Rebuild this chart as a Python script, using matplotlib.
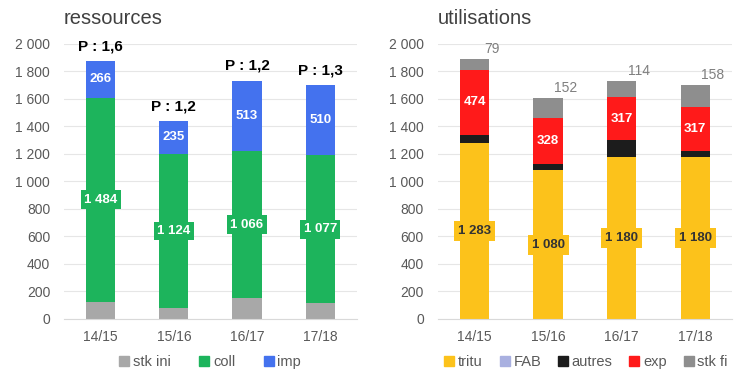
import matplotlib.pyplot as plt
from matplotlib.lines import Line2D
import numpy as np

plt.rcParams['font.family'] = ['Liberation Sans', 'DejaVu Sans']

years = ['14/15', '15/16', '16/17', '17/18']

# ressources
stk_ini = [126, 79, 152, 114]
coll = [1484, 1124, 1066, 1077]
imp = [266, 235, 513, 510]
ratio = ['P : 1,6', 'P : 1,2', 'P : 1,2', 'P : 1,3']

# utilisations
tritu = [1283, 1080, 1180, 1180]
fab = [0, 0, 0, 0]
autres = [55, 50, 119, 44]
exp_ = [474, 328, 317, 317]
stk_fi = [79, 152, 114, 158]

C_STKINI = '#A8A8A8'
C_COLL = '#1DB45C'
C_IMP = '#4472EE'
C_TRITU = '#FCC21B'
C_FAB = '#A9B0E0'
C_AUTRES = '#1C1C1C'
C_EXP = '#FF1A1A'
C_STKFI = '#8E8E8E'
TICK = '#595959'


def fmt(v):
    return '{:,}'.format(v).replace(',', ' ')


def style_axis(ax, title):
    ax.set_xlim(-0.5, 3.5)
    ax.set_ylim(0, 2000)
    ax.set_yticks(np.arange(0, 2001, 200))
    ax.set_yticklabels([fmt(v) for v in range(0, 2001, 200)])
    ax.set_xticks(range(4))
    ax.set_xticklabels(years)
    ax.tick_params(length=0, colors=TICK, labelsize=10)
    ax.tick_params(axis='y', pad=10)
    ax.tick_params(axis='x', pad=8)
    ax.grid(axis='y', color='#E6E6E6', lw=0.8)
    ax.set_axisbelow(True)
    for s in ['top', 'right', 'left']:
        ax.spines[s].set_visible(False)
    ax.spines['bottom'].set_color('#D9D9D9')
    ax.text(0.0, 1.058, title, transform=ax.transAxes, fontsize=14.5,
            color='#404040', ha='left', va='bottom')


fig = plt.figure(figsize=(7.47, 3.89), dpi=100)
ax1 = fig.add_axes([0.0857, 0.18, 0.392, 0.707])
ax2 = fig.add_axes([0.586, 0.18, 0.394, 0.707])
x = np.arange(4)
w = 0.4

# left chart
b = np.zeros(4)
ax1.bar(x, stk_ini, w, bottom=b, color=C_STKINI)
b += stk_ini
ax1.bar(x, coll, w, bottom=b, color=C_COLL)
for i in range(4):
    ax1.text(x[i], b[i] + coll[i] / 2, fmt(coll[i]), ha='center', va='center',
             color='white', fontsize=9.5, fontweight='bold',
             bbox=dict(boxstyle='square,pad=0.25', fc=C_COLL, ec='none'))
b += coll
ax1.bar(x, imp, w, bottom=b, color=C_IMP)
for i in range(4):
    ax1.text(x[i], b[i] + imp[i] / 2, fmt(imp[i]), ha='center', va='center',
             color='white', fontsize=9.5, fontweight='bold')
b += imp
for i in range(4):
    ax1.annotate(ratio[i], (x[i], b[i]), xytext=(0, 8), textcoords='offset pixels',
                 ha='center', va='bottom', fontsize=11, fontweight='bold',
                 annotation_clip=False)
style_axis(ax1, 'ressources')

# right chart
b = np.zeros(4)
ax2.bar(x, tritu, w, bottom=b, color=C_TRITU)
for i in range(4):
    ax2.text(x[i], b[i] + tritu[i] / 2, fmt(tritu[i]), ha='center',
             va='center', color='#333333', fontsize=9.5, fontweight='bold',
             bbox=dict(boxstyle='square,pad=0.3', fc=C_TRITU, ec='none'))
b += tritu
ax2.bar(x, fab, w, bottom=b, color=C_FAB)
b += fab
ax2.bar(x, autres, w, bottom=b, color=C_AUTRES)
b += autres
ax2.bar(x, exp_, w, bottom=b, color=C_EXP)
for i in range(4):
    ax2.text(x[i], b[i] + exp_[i] / 2, fmt(exp_[i]), ha='center', va='center',
             color='white', fontsize=9.5, fontweight='bold')
b += exp_
ax2.bar(x, stk_fi, w, bottom=b, color=C_STKFI)
b += stk_fi
for i in range(4):
    ax2.annotate(fmt(stk_fi[i]), (x[i] + w / 2, b[i]), xytext=(3, 10),
                 textcoords='offset pixels', ha='center', va='center',
                 fontsize=10, color='#7F7F7F', annotation_clip=False)
style_axis(ax2, 'utilisations')


def sq(c, lab):
    return Line2D([], [], ls='none', marker='s', ms=6.5, color=c, label=lab)


fig.legend(handles=[sq(C_STKINI, 'stk ini'), sq(C_COLL, 'coll'), sq(C_IMP, 'imp')],
           loc='center', bbox_to_anchor=(0.2817, 0.069), ncol=3, frameon=False,
           fontsize=10.5, handlelength=0.6, handletextpad=0.3, columnspacing=2.0,
           labelcolor='#595959')
fig.legend(handles=[sq(C_TRITU, 'tritu'), sq(C_FAB, 'FAB'), sq(C_AUTRES, 'autres'),
                    sq(C_EXP, 'exp'), sq(C_STKFI, 'stk fi')],
           loc='center', bbox_to_anchor=(0.785, 0.069), ncol=5, frameon=False,
           fontsize=10.5, handlelength=0.6, handletextpad=0.3, columnspacing=1.2,
           labelcolor='#595959')

fig.savefig('out.png', dpi=100, facecolor='white')
